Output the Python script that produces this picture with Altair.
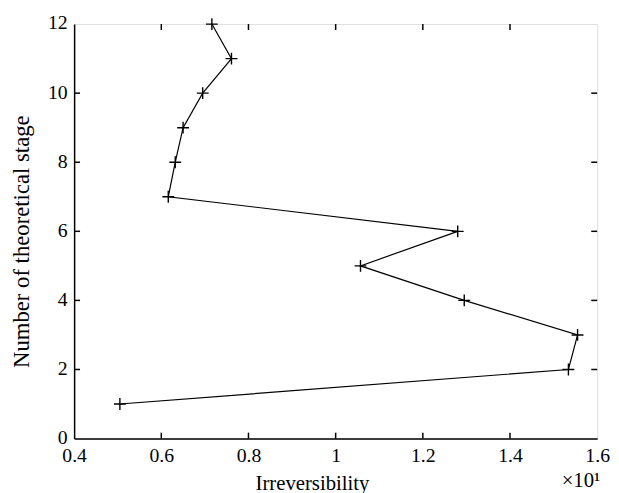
import altair as alt
import pandas as pd

stage = [1, 2, 3, 4, 5, 6, 7, 8, 9, 10, 11, 12]
irr = [0.505, 1.534, 1.555, 1.295, 1.057, 1.280, 0.616, 0.632, 0.650, 0.695, 0.761, 0.716]

x_ticks = [0.4, 0.6, 0.8, 1.0, 1.2, 1.4, 1.6]
y_ticks = [0, 2, 4, 6, 8, 10, 12]
x_inner = [0.6, 0.8, 1.0, 1.2, 1.4]
y_inner = [2, 4, 6, 8, 10]

W, H = 530, 420
FONT = "Liberation Serif"

df = pd.DataFrame({"irr": irr, "stage": stage})
xt = pd.DataFrame({"irr": x_inner})
yt = pd.DataFrame({"stage": y_inner})

xscale = alt.Scale(domain=[0.4, 1.6], nice=False, zero=False)
yscale = alt.Scale(domain=[0, 12], nice=False, zero=False)

x_enc = alt.X("irr:Q", scale=xscale, axis=alt.Axis(
    values=x_ticks, format=".1~f", title="Irreversibility", grid=False, ticks=False,
    domainColor="black", domainWidth=1.5, labelFont=FONT, labelFontSize=20,
    labelColor="black", labelPadding=7, titleFont=FONT, titleFontSize=21,
    titleFontWeight="normal", titleColor="black", titleX=241, titleY=46,
    titleBaseline="middle", labelFlush=False))
y_enc = alt.Y("stage:Q", scale=yscale, axis=alt.Axis(
    values=y_ticks, title="Number of theoretical stage", grid=False, ticks=False,
    domainColor="black", domainWidth=1.5, labelFont=FONT, labelFontSize=20,
    labelColor="black", labelPadding=7, titleFont=FONT, titleFontSize=23,
    titleFontWeight="normal", titleColor="black", titleX=-53, titleY=220,
    titleBaseline="middle", labelFlush=False, labelOffset=-1))

line = alt.Chart(df).mark_line(color="black", strokeWidth=1.2).encode(
    x=x_enc, y=y_enc, order="stage:Q")
pts = alt.Chart(df).mark_point(
    shape="M-1,0L1,0M0,-1L0,1", size=144, filled=False, color="black", strokeWidth=1.4, opacity=1
).encode(x=alt.X("irr:Q", scale=xscale), y=alt.Y("stage:Q", scale=yscale))

tb = alt.Chart(xt).mark_rule(color="black", strokeWidth=1.5).encode(
    x=alt.X("irr:Q", scale=xscale), y=alt.value(H), y2=alt.value(H - 6))
tt = alt.Chart(xt).mark_rule(color="black", strokeWidth=1.5).encode(
    x=alt.X("irr:Q", scale=xscale), y=alt.value(0), y2=alt.value(6))
tl = alt.Chart(yt).mark_rule(color="black", strokeWidth=1.5).encode(
    y=alt.Y("stage:Q", scale=yscale), x=alt.value(0), x2=alt.value(6))
tr = alt.Chart(yt).mark_rule(color="black", strokeWidth=1.5).encode(
    y=alt.Y("stage:Q", scale=yscale), x=alt.value(W), x2=alt.value(W - 6))

mult = alt.Chart(pd.DataFrame({"t": ["×10¹"]})).mark_text(
    font=FONT, fontSize=21, color="black", align="left", baseline="middle"
).encode(text="t:N", x=alt.value(494), y=alt.value(463))

chart = alt.layer(line, pts, tb, tt, tl, tr, mult).properties(
    width=W, height=H,
    autosize=alt.AutoSizeParams(type="none"),
    padding={"left": 67, "top": 13, "right": 14, "bottom": 62},
).configure_view(stroke="black", strokeWidth=1.5).configure(background="white")

chart.save("out.html", embed_options={"renderer": "svg", "actions": False})
